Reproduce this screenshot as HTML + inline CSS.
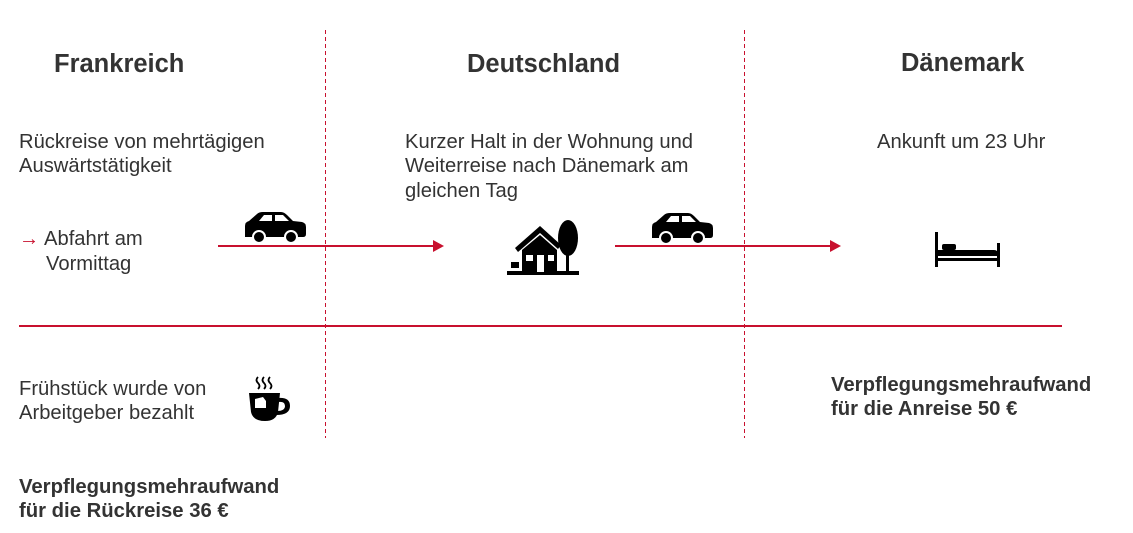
<!DOCTYPE html>
<html><head><meta charset="utf-8"><style>
html,body{margin:0;padding:0;background:#fff}
svg{display:block}
text{font-family:"Liberation Sans",Arial,sans-serif;fill:#333}
.h{font-size:25.5px;font-weight:bold}
.b{font-size:20.2px}
.bb{font-size:20.3px;font-weight:bold}
</style></head><body>
<svg width="1133" height="533" viewBox="0 0 1133 533" xmlns="http://www.w3.org/2000/svg">
<line x1="325.5" y1="30" x2="325.5" y2="438" stroke="#c8102e" stroke-width="1" stroke-dasharray="4,3"/>
<line x1="744.5" y1="30" x2="744.5" y2="438" stroke="#c8102e" stroke-width="1" stroke-dasharray="4,3"/>
<line x1="19" y1="326" x2="1062" y2="326" stroke="#c8102e" stroke-width="2"/>
<line x1="218" y1="246" x2="434" y2="246" stroke="#c8102e" stroke-width="2"/>
<polygon points="433,240 444,246 433,252" fill="#c8102e"/>
<line x1="615" y1="246" x2="832" y2="246" stroke="#c8102e" stroke-width="2"/>
<polygon points="830,240 841,246 830,252" fill="#c8102e"/>

<text class="h" x="54" y="72">Frankreich</text>
<text class="h" x="467" y="72">Deutschland</text>
<text class="h" x="901" y="71">Dänemark</text>

<text class="b" x="19" y="148">Rückreise von mehrtägigen</text>
<text class="b" x="19" y="172">Auswärtstätigkeit</text>
<text class="b" x="405" y="148">Kurzer Halt in der Wohnung und</text>
<text class="b" x="405" y="172">Weiterreise nach Dänemark am</text>
<text class="b" x="405" y="197">gleichen Tag</text>
<text class="b" x="877" y="148">Ankunft um 23 Uhr</text>

<text class="b" x="19" y="245" style="fill:#c8102e">→</text>
<text class="b" x="44" y="245">Abfahrt am</text>
<text class="b" x="46" y="270">Vormittag</text>

<text class="b" x="19" y="395">Frühstück wurde von</text>
<text class="b" x="19" y="419">Arbeitgeber bezahlt</text>

<text class="bb" x="831" y="391">Verpflegungsmehraufwand</text>
<text class="bb" x="831" y="415">für die Anreise 50 €</text>
<text class="bb" x="19" y="493">Verpflegungsmehraufwand</text>
<text class="bb" x="19" y="517">für die Rückreise 36 €</text>

<g transform="translate(245,212)">
<path d="M0,22 L0,14 Q0,10 4,9 L12,2 Q14,0 18,0 L36,0 Q39,0 42,3 L48,9 L57,10 Q61,11 61,15 L61,22 Q61,25 58,25 L0,25 Z" fill="#000"/>
<path d="M14,9 L19,3 L27,3 L27,9 Z M30,3 L38,3 L44,9 L30,9 Z" fill="#fff"/>
<circle cx="14" cy="25" r="6" fill="#000" stroke="#fff" stroke-width="2"/>
<circle cx="46" cy="25" r="6" fill="#000" stroke="#fff" stroke-width="2"/>
</g>
<g transform="translate(652,213)">
<path d="M0,22 L0,14 Q0,10 4,9 L12,2 Q14,0 18,0 L36,0 Q39,0 42,3 L48,9 L57,10 Q61,11 61,15 L61,22 Q61,25 58,25 L0,25 Z" fill="#000"/>
<path d="M14,9 L19,3 L27,3 L27,9 Z M30,3 L38,3 L44,9 L30,9 Z" fill="#fff"/>
<circle cx="14" cy="25" r="6" fill="#000" stroke="#fff" stroke-width="2"/>
<circle cx="46" cy="25" r="6" fill="#000" stroke="#fff" stroke-width="2"/>
</g>
<g>
<rect x="507" y="271" width="72" height="4" fill="#000"/>
<polygon points="515,248 540,226 561,245 558,249 540,233 518,252" fill="#000"/>
<polygon points="522,250 540,235 557,250 557,272 522,272" fill="#000"/>
<rect x="526" y="255" width="7" height="6" fill="#fff"/>
<rect x="537" y="255" width="7" height="17" fill="#fff"/>
<rect x="548" y="255" width="6" height="6" fill="#fff"/>
<ellipse cx="568" cy="238" rx="10" ry="18" fill="#000"/>
<rect x="566" y="245" width="3" height="27" fill="#000"/>
<rect x="511" y="262" width="8" height="6" fill="#000"/>
</g>
<g fill="#000">
<rect x="935" y="232" width="3" height="35"/>
<rect x="997" y="243" width="3" height="24"/>
<rect x="935" y="258" width="65" height="3"/>
<rect x="942" y="244" width="14" height="6" rx="2"/>
<path d="M938,250 L994,250 Q998,250 998,254 L998,256 L938,256 Z"/>
</g>
<g fill="#000">
<path d="M249,393 L280,393 L278,412 Q276,421 265,421 Q253,421 251,412 Z"/>
<path d="M278,398 Q290,397 290,406 Q290,415 276,415 L277,411 Q285,411 285,406 Q285,401 278,402 Z"/>
<path d="M255,399 L263,397 L266,401 L266,408 L255,408 Z" fill="#fff"/>
<path d="M258,377 q-3,3 0,6 q3,3 0,6" stroke="#000" stroke-width="1.8" fill="none"/>
<path d="M264,377 q-3,3 0,6 q3,3 0,6" stroke="#000" stroke-width="1.8" fill="none"/>
<path d="M270,377 q-3,3 0,6 q3,3 0,6" stroke="#000" stroke-width="1.8" fill="none"/>
</g>
</svg>
</body></html>
